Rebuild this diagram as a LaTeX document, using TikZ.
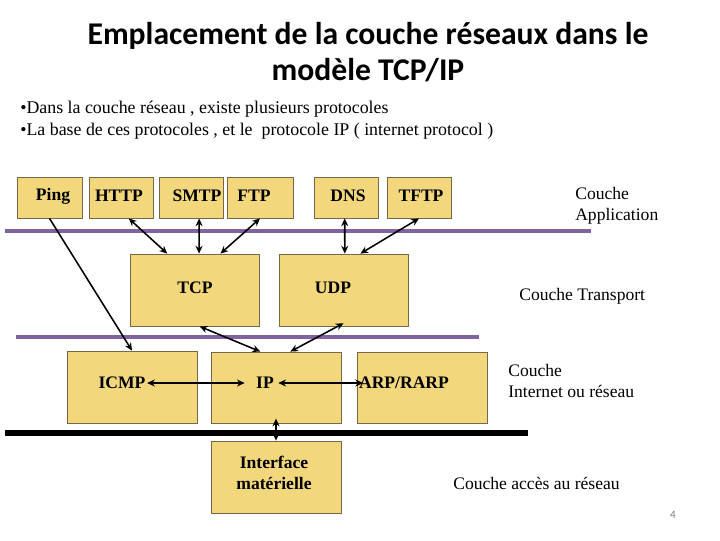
\documentclass[tikz,border=0pt]{standalone}
\usepackage{fontspec}
\setmainfont{Liberation Serif}
\newfontfamily\titlefont{Carlito}
\usetikzlibrary{arrows.meta,calc}
\definecolor{boxfill}{RGB}{243,215,125}
\definecolor{boxedge}{RGB}{120,105,70}
\definecolor{layerpurple}{RGB}{128,100,162}
\tikzset{
  box/.style 2 args={draw=boxedge, line width=0.6pt, fill=boxfill,
    minimum width=#1*0.025cm, minimum height=#2*0.025cm, inner sep=0pt},
  btxt/.style={font=\fontsize{12.5}{14}\selectfont\bfseries, inner sep=0pt},
  lay/.style={font=\fontsize{12.5}{15}\selectfont, align=left, anchor=west, inner sep=0pt},
  conn/.style={line width=1.1pt, {Stealth[length=5.5pt,width=5pt]}-{Stealth[length=5.5pt,width=5pt]}},
  conn1/.style={line width=1.1pt, -{Stealth[length=5.5pt,width=5pt]}},
}
\begin{document}
\begin{tikzpicture}[x=0.025cm,y=-0.025cm]
\useasboundingbox (0,0) rectangle (720,540);
% title
\node[font=\titlefont\bfseries\fontsize{22.5}{25.5}\selectfont, align=center] (title) at (368,52)
  {Emplacement de la couche réseaux dans le\\modèle TCP/IP};
% bullets
\node[font=\fontsize{12.7}{15.5}\selectfont, align=left, anchor=west, inner sep=0pt] (bul) at (20,120)
  {\textbullet Dans la couche réseau , existe plusieurs protocoles\\
   \textbullet La base de ces protocoles , et le\ \ protocole IP ( internet protocol )};
% application boxes
\node[box={65}{41}] (ping) at (49.5,197.5) {};
\node[box={64}{41}] (http) at (121,197.5) {};
\node[box={64}{41}] (smtp) at (191,197.5) {};
\node[box={66}{41}] (ftp) at (260,197.5) {};
\node[box={64}{41}] (dns) at (346,197.5) {};
\node[box={64}{41}] (tftp) at (419,197.5) {};
\node[btxt] (pingt) at (53,196) {Ping};
\node[btxt] (httpt) at (119,196) {HTTP};
\node[btxt] (smtpt) at (197,196) {SMTP};
\node[btxt] (ftpt) at (254,196) {FTP};
\node[btxt] (dnst) at (348,196) {DNS};
\node[btxt] (tftpt) at (421,196) {TFTP};
% transport
\node[box={129}{72}] (tcp) at (194.5,290) {};
\node[box={129}{72}] (udp) at (343.5,290) {};
\node[btxt] (tcpt) at (195,288) {TCP};
\node[btxt] (udpt) at (333,288) {UDP};
% internet
\node[box={130}{72}] (icmp) at (132,387) {};
\node[box={130}{71}] (ip) at (276,387.5) {};
\node[box={130}{71}] (arp) at (422,387.5) {};
\node[btxt] (icmpt) at (122,383) {ICMP};
\node[btxt] (ipt) at (265,383) {IP};
\node[btxt] (arpt) at (404,383) {ARP/RARP};
% access
\node[box={130}{72}] (iface) at (276,477) {};
\node[btxt, align=center, font=\fontsize{12.5}{15}\selectfont\bfseries] (ifacet) at (274,473) {Interface\\matérielle};
% layer lines
\draw[layerpurple, line width=3pt] (5,231) -- (591,231);
\draw[layerpurple, line width=2.4pt] (16,337) -- (479,337);
\draw[black, line width=3.6pt] (5,433) -- (528,433);
% layer labels
\node[lay] (lapp) at (575,206) {Couche\\Application};
\node[lay] (ltr) at (519,296) {Couche Transport};
\node[lay] (lint) at (508,381) {Couche\\Internet ou réseau};
\node[lay] (lacc) at (453,483) {Couche accès au réseau};
\node[font=\titlefont\fontsize{8}{10}\selectfont, text=gray] (pg) at (673,515) {4};
% connectors
\draw[conn1] (ping.south) -- (icmp.north);
\draw[conn] ($(http.south west)!0.62!(http.south east)$) -- ($(tcp.north west)!0.29!(tcp.north east)$);
\draw[conn] ($(smtp.south west)!0.625!(smtp.south east)$) -- ($(tcp.north west)!0.535!(tcp.north east)$);
\draw[conn] (ftp.south) -- ($(tcp.north west)!0.70!(tcp.north east)$);
\draw[conn] ($(dns.south west)!0.48!(dns.south east)$) -- ($(udp.north west)!0.51!(udp.north east)$);
\draw[conn] (tftp.south) -- ($(udp.north west)!0.63!(udp.north east)$);
\draw[conn] ($(tcp.south west)!0.54!(tcp.south east)$) -- ($(ip.north west)!0.38!(ip.north east)$);
\draw[conn] ([yshift=0.08cm]udp.south) -- ($(ip.north west)!0.61!(ip.north east)$);
\draw[conn] ([xshift=1pt]icmpt.east) -- ([xshift=-8pt]ipt.west);
\draw[conn] ([xshift=3pt]ipt.east) -- ([xshift=3pt]arpt.west);
\draw[conn] ([yshift=0.12cm]ip.south) -- (iface.north);
\end{tikzpicture}
\end{document}
